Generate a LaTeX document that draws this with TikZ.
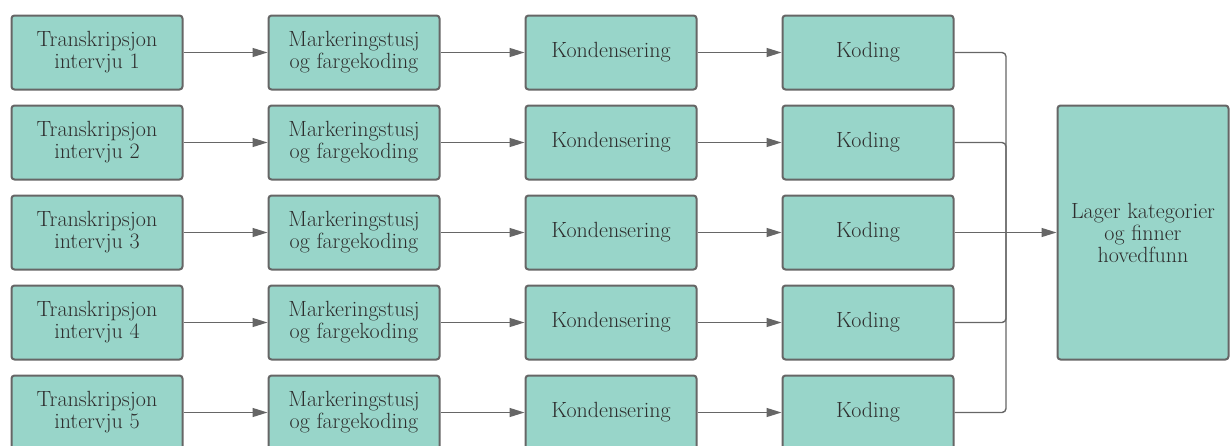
\documentclass[tikz,border=0pt]{standalone}
\usepackage{fontspec}
\usepackage{xcolor}
\definecolor{STEPfill}{HTML}{98D5C9}
\definecolor{STEPline}{HTML}{666666}
\definecolor{STEPtext}{HTML}{2E2E2E}
\usetikzlibrary{arrows.meta, positioning}

\tikzset{
   stepbox/.style={draw=STEPline, line width=2pt, fill=STEPfill, rounded corners=3pt,
      minimum width=171pt, minimum height=74pt, align=center, text=STEPtext,
      font=\fontsize{22}{22}\selectfont},
   flow/.style={STEPline, line width=1.4pt, -{Triangle[length=15pt, width=9pt]}},
   busline/.style={STEPline, line width=1.4pt, rounded corners=4pt}
}

\begin{document}
\begin{tikzpicture}[x=1pt, y=-1pt]
            \useasboundingbox (0,0) rectangle (1232,445);
            % one row per interview
            \foreach \i in {1,...,5} {
               \pgfmathsetmacro{\rowy}{52.5+90*(\i-1)}
               \node[stepbox] (trans\i) at (97,\rowy) {Transkripsjon\\intervju \i};
               \node[stepbox] (mark\i) at (354,\rowy) {Markeringstusj\\og fargekoding};
               \node[stepbox] (kond\i) at (611,\rowy) {Kondensering};
               \node[stepbox] (kode\i) at (868,\rowy) {Koding};
               \draw[flow] (trans\i) -- (mark\i);
               \draw[flow] (mark\i) -- (kond\i);
               \draw[flow] (kond\i) -- (kode\i);
            }
            \node[stepbox, minimum height=254pt] (funn) at (1143,232.5) {Lager kategorier\\og finner\\hovedfunn};
            % collect all codings
            \coordinate (bus) at (1006,232.5);
            \foreach \i in {1,2,4,5}
               \draw[busline] (kode\i.east) -| (bus);
            \draw[busline] (kode3.east) -- (bus);
            \draw[flow] (bus) -- (funn.west);
         \end{tikzpicture}
\end{document}
